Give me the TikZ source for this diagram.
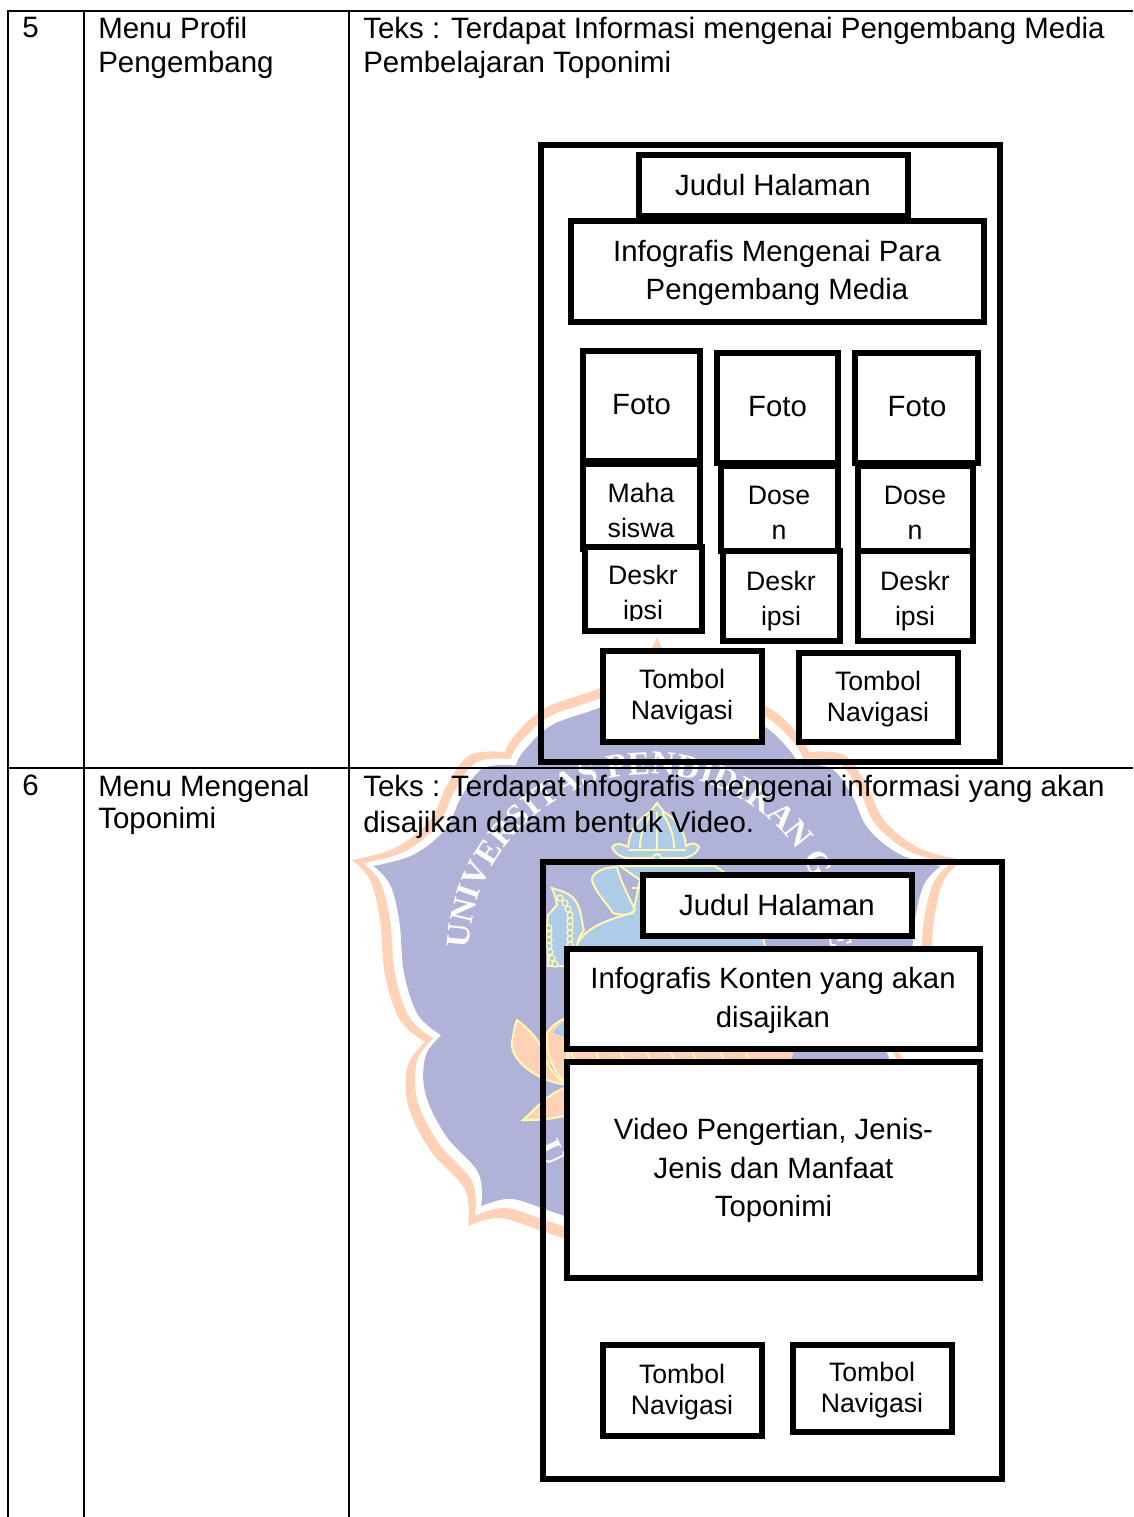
\documentclass[tikz,border=0pt]{standalone}
\usepackage{fontspec}
\setmainfont{Liberation Sans}
\newfontfamily\wmfont{Liberation Serif}
\usetikzlibrary{decorations.text}
\definecolor{wmpeach}{HTML}{FFD2B8}
\definecolor{wmlav}{HTML}{B0B2D8}
\definecolor{wmblue}{HTML}{AECCE8}
\definecolor{wmyel}{HTML}{FFF8B0}
\tikzset{
  x=0.75pt,y=-0.75pt,
  tableline/.style={line width=1.5pt,black},
  outerbox/.style={draw=black,line width=4pt,inner sep=0pt},
  innerbox/.style={outerbox,fill=white},
  big/.style={inner sep=0pt,align=center,font=\fontsize{22}{29}\selectfont},
  small/.style={inner sep=0pt,align=center,font=\fontsize{20}{23.3}\selectfont},
  mid/.style={inner sep=0pt,align=center,font=\fontsize{20}{26.3}\selectfont},
  body/.style={inner sep=0pt,anchor=north west,align=left},
  wmline/.style={wmyel,line width=1.5pt},
  wmshape/.style={fill=wmblue,draw=wmyel,line width=1.5pt},
  wmpetal/.style={fill=wmpeach,draw=wmyel,line width=1.5pt},
}
\newcommand\wmoutline{
  plot[smooth,tension=.6] coordinates {(657,637)(640,665)(600,688)(545,708)(515,735)(505,752)}
  -- plot[smooth,tension=.6] coordinates {(505,752)(470,755)(447,785)(430,820)(395,848)(352,860)}
  -- plot[smooth,tension=.6] coordinates {(352,860)(370,880)(380,920)(385,975)(400,1020)(425,1042)}
  -- plot[smooth,tension=.6] coordinates {(425,1042)(408,1065)(408,1105)(430,1150)(465,1190)(468,1226)}
  -- plot[smooth,tension=.6] coordinates {(468,1226)(500,1218)(545,1232)(600,1250)(657,1262)}
  -- plot[smooth,tension=.6] coordinates {(657,1262)(714,1250)(769,1232)(814,1218)(846,1226)}
  -- plot[smooth,tension=.6] coordinates {(846,1226)(849,1190)(884,1150)(906,1105)(906,1065)(889,1042)}
  -- plot[smooth,tension=.6] coordinates {(889,1042)(914,1020)(929,975)(934,920)(944,880)(962,860)}
  -- plot[smooth,tension=.6] coordinates {(962,860)(919,848)(884,820)(867,785)(844,755)(809,752)}
  -- plot[smooth,tension=.6] coordinates {(809,752)(799,735)(769,708)(714,688)(674,665)(657,637)}
  -- cycle}
% \bx{style}{name}{x1}{y1}{x2}{y2}
\newcommand\bx[6]{\node[#1,minimum width={(#5-#3)*0.75pt},minimum height={(#6-#4)*0.75pt}] (#2) at ({(#3+#5)/2},{(#4+#6)/2}) {};}
\begin{document}
\begin{tikzpicture}
\useasboundingbox (0,0) rectangle (1133,1517);
% watermark
\fill[wmpeach] \wmoutline;
\fill[white,scale around={0.963:(657,945)}] \wmoutline;
\fill[wmlav,scale around={0.93:(657,945)}] \wmoutline;
% lotus seat
\fill[wmpeach] (545,1040) -- (797,1040) -- (790,1064) -- (545,1064) -- cycle;
\foreach \px in {570,595,620,646,670,692,720,745}{\draw[wmline] (\px,1050) -- ({\px+4},1060);}
% lotus petals
\draw[wmpetal] (547,1033) .. controls (552,1025) and (560,1020) .. (568,1017) -- (568,1085) .. controls (555,1075) and (545,1055) .. (547,1033) -- cycle;
\fill[wmblue] (553,1033) .. controls (556,1027) and (562,1023) .. (568,1020) -- (568,1038) -- cycle;
\draw[wmpetal] (517,1020) .. controls (530,1030) and (540,1040) .. (545,1057) .. controls (550,1070) and (558,1080) .. (567,1085) .. controls (540,1082) and (505,1060) .. (513,1037) .. controls (514,1030) and (515,1025) .. (517,1020) -- cycle;
\draw[wmpetal] (523,1120) .. controls (535,1110) and (545,1095) .. (567,1087) -- (567,1115) .. controls (550,1120) and (535,1120) .. (523,1120) -- cycle;
% Ganesha: body
\draw[wmshape] (575,950) .. controls (578,935) and (595,922) .. (633,913) -- (640,880) -- (620,866) -- (715,866) .. controls (740,880) and (760,920) .. (766,950) -- cycle;
% crown
\draw[wmshape] (612,847) .. controls (616,842) and (622,844) .. (628,847) .. controls (630,825) and (645,815) .. (650,812) -- (657,803) -- (664,812) .. controls (670,815) and (684,825) .. (686,846) .. controls (690,843) and (696,842) .. (699,847) .. controls (698,852) and (690,858) .. (682,858) -- (628,858) .. controls (620,858) and (614,852) .. (612,847) -- cycle;
\draw[wmline] (629,850) -- (686,850);
\draw[wmline] (640,848) .. controls (640,830) and (648,820) .. (652,812);
\draw[wmline] (674,848) .. controls (674,830) and (666,820) .. (662,812);
\draw[wmline] (657,849) -- (657,812);
\draw[wmline,fill=wmblue] (657,858) circle (4);
% ear
\draw[wmshape] (617,867) .. controls (605,867) and (592,872) .. (592,880) .. controls (595,892) and (606,902) .. (613,913) .. controls (622,916) and (630,915) .. (635,910) .. controls (628,895) and (620,880) .. (617,867) -- cycle;
\draw[wmline] (632,888) -- (642,888);
% hand and beads
\draw[wmshape] (552,888) .. controls (560,891) and (572,892) .. (578,905) .. controls (582,915) and (582,925) .. (584,930) .. controls (578,938) and (577,945) .. (576,950) -- (566,966) -- (548,966) .. controls (549,950) and (546,925) .. (548,915) -- (557,905) .. controls (556,898) and (554,893) .. (552,888) -- cycle;
\foreach \bx/\by in {560/898,565/903,568/909,570/915,570/921,570/927,570/933,570/939,570/945,549/928,549/934,549/940,549/946,550/952,552/958,555/964}{
  \draw[wmyel,line width=1pt,fill=wmblue] (\bx,\by) circle (3);}
% watermark lettering
\path[decorate,decoration={text along path,text align=left,
  text={|\wmfont\bfseries\fontsize{25}{25}\selectfont\color{white}|UNIVERSITAS PENDIDIKAN GANESHA}}]
  (469,949) arc[start angle=178,end angle=-12,x radius=181,y radius=-181];
\node[inner sep=0pt,white,font=\wmfont\bfseries\fontsize{25}{25}\selectfont,rotate=-65] (wmu) at (552,1153) {U};
% table
\draw[tableline] (8,1517) -- (8,11) -- (1133,11);
\draw[tableline] (84,11) -- (84,1517);
\draw[tableline] (349,11) -- (349,1517);
\draw[tableline] (8,768) -- (1133,768);
% table text
\begin{scope}[font=\fontsize{22.1}{25.5}\selectfont]
\node[body] (n5) at (22,17) {5};
\node[body] (m5) at (98,17) {Menu Profil\\Pengembang};
\node[body] (t5) at (363,17) {Teks : Terdapat Informasi mengenai Pengembang Media\\Pembelajaran Toponimi};
\node[body] (n6) at (22,775) {6};
\node[body,font=\fontsize{22.1}{24}\selectfont] (m6) at (98,775) {Menu Mengenal\\Toponimi};
\node[body,font=\fontsize{22.1}{27}\selectfont] (t6) at (363,775) {Teks : Terdapat Infografis mengenai informasi yang akan\\disajikan dalam bentuk Video.};
\end{scope}
% screen 5
\bx{outerbox}{outerA}{541}{145}{1000}{762}
\bx{innerbox}{judulA}{639}{155}{908}{216}
\node[big] (tjudulA) at (773,185) {Judul Halaman};
\bx{innerbox}{infoA}{571}{221}{984}{322}
\node[big] (tinfoA) at (777,273) {Infografis Mengenai Para\\Pengembang Media};
\bx{innerbox}{fotoA}{583}{351}{700}{461}
\node[big] (tfotoA) at (641.5,405) {Foto};
\bx{innerbox}{fotoB}{717}{353}{838}{463}
\node[big] (tfotoB) at (777.5,407) {Foto};
\bx{innerbox}{fotoC}{855}{353}{978}{463}
\node[big] (tfotoC) at (917,407) {Foto};
\bx{innerbox}{roleA}{583}{464}{700}{549}
\node[mid] (troleA) at (641,510) {Maha\\siswa};
\bx{innerbox}{roleB}{721}{466}{838}{551}
\node[mid] (troleB) at (779,513) {Dose\\n};
\bx{innerbox}{roleC}{858}{466}{973}{551}
\node[mid] (troleC) at (915,513) {Dose\\n};
\bx{innerbox}{deskA}{585}{547}{702}{631}
\begin{scope}
\clip (587,549) rectangle (700,620);
\node[mid] (tdeskA) at (643,595) {Deskr\\ipsi};
\end{scope}
\bx{innerbox}{deskB}{723}{551}{840}{641}
\node[mid] (tdeskB) at (781,601) {Deskr\\ipsi};
\bx{innerbox}{deskC}{858}{551}{973}{641}
\node[mid] (tdeskC) at (915,601) {Deskr\\ipsi};
\bx{innerbox}{navA}{603}{651}{762}{742}
\node[small] (tnavA) at (682,697.5) {Tombol\\Navigasi};
\bx{innerbox}{navB}{799}{653}{958}{742}
\node[small] (tnavB) at (878,699) {Tombol\\Navigasi};
% screen 6
\bx{outerbox}{outerB}{543}{862}{1002}{1479}
\bx{innerbox}{judulB}{643}{875}{912}{936}
\node[big] (tjudulB) at (777,905) {Judul Halaman};
\bx{innerbox}{infoB}{567}{949}{980}{1049}
\node[big] (tinfoB) at (773,1000.5) {Infografis Konten yang akan\\disajikan};
\bx{innerbox}{videoB}{567}{1062}{980}{1278}
\node[big] (tvideoB) at (773.5,1170.5) {Video Pengertian, Jenis-\\Jenis dan Manfaat\\Toponimi};
\bx{innerbox}{navC}{603}{1345}{762}{1436}
\node[small] (tnavC) at (682,1392.5) {Tombol\\Navigasi};
\bx{innerbox}{navD}{793}{1345}{952}{1432}
\node[small] (tnavD) at (872,1390.5) {Tombol\\Navigasi};
\end{tikzpicture}
\end{document}
